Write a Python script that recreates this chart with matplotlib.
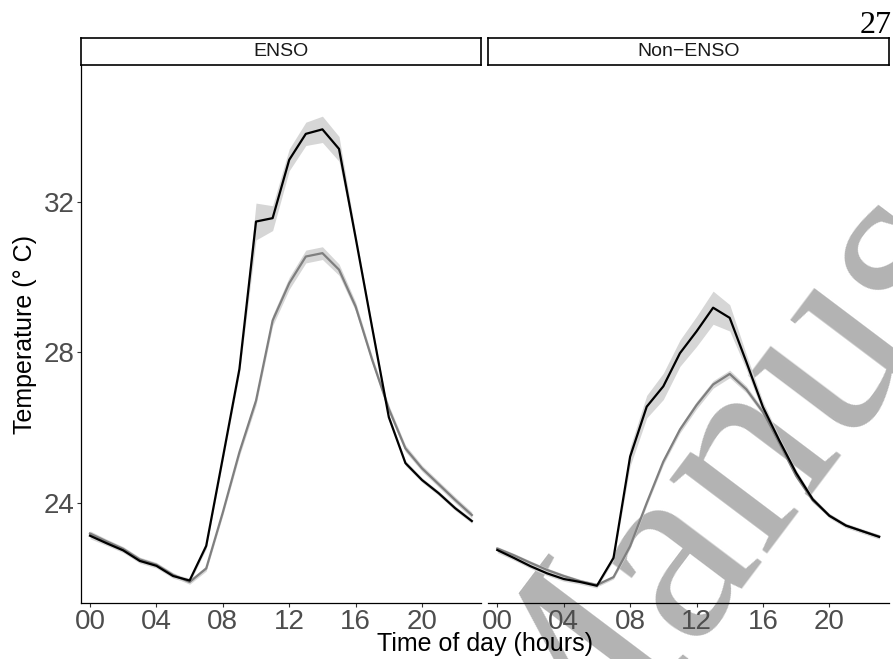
import numpy as np
import matplotlib
matplotlib.use('Agg')
import matplotlib.pyplot as plt

# hourly mean temperature
hours = list(range(24))
enso_black = [23.13, 22.93, 22.74, 22.46, 22.33, 22.06, 21.94, 22.86, 25.2, 27.56, 31.48, 31.57,
              33.12, 33.81, 33.93, 33.41, 31.05, 28.65, 26.28, 25.06, 24.61, 24.26, 23.86, 23.52]
enso_grey = [23.19, 22.98, 22.78, 22.5, 22.36, 22.09, 21.9, 22.26, 23.75, 25.35, 26.72, 28.85,
             29.84, 30.55, 30.64, 30.2, 29.22, 27.8, 26.5, 25.45, 24.92, 24.5, 24.08, 23.68]
non_black = [22.75, 22.54, 22.32, 22.13, 21.98, 21.9, 21.8, 22.54, 25.23, 26.56, 27.1, 27.98,
             28.56, 29.19, 28.92, 27.75, 26.55, 25.65, 24.8, 24.1, 23.66, 23.4, 23.25, 23.1]
non_grey = [22.79, 22.61, 22.41, 22.22, 22.06, 21.92, 21.82, 22.03, 22.85, 24.0, 25.1, 25.95,
            26.6, 27.15, 27.43, 27.02, 26.42, 25.58, 24.72, 24.07, 23.67, 23.4, 23.25, 23.11]
# half widths of the confidence bands
enso_black_ci = [0.08, 0.06, 0.06, 0.06, 0.06, 0.06, 0.06, 0.08, 0.1, 0.12, 0.49, 0.33,
                 0.29, 0.31, 0.35, 0.33, 0.12, 0.08, 0.08, 0.07, 0.06, 0.06, 0.06, 0.06]
enso_grey_ci = [0.07, 0.06, 0.06, 0.06, 0.06, 0.06, 0.06, 0.07, 0.08, 0.1, 0.12, 0.14,
                0.16, 0.17, 0.17, 0.15, 0.12, 0.1, 0.1, 0.09, 0.08, 0.08, 0.08, 0.08]
non_black_ci = [0.07, 0.06, 0.06, 0.06, 0.06, 0.06, 0.06, 0.07, 0.25, 0.3, 0.35, 0.35,
                0.4, 0.44, 0.35, 0.2, 0.15, 0.1, 0.08, 0.07, 0.06, 0.06, 0.06, 0.06]
non_grey_ci = [0.05, 0.05, 0.05, 0.05, 0.05, 0.05, 0.05, 0.05, 0.06, 0.07, 0.08, 0.09,
               0.1, 0.1, 0.1, 0.09, 0.08, 0.07, 0.06, 0.06, 0.05, 0.05, 0.05, 0.05]
panels = ['ENSO', 'Non\u2212ENSO']
xticks = [0, 4, 8, 12, 16, 20]
xticklabels = ['00', '04', '08', '12', '16', '20']
yticks = [24, 28, 32]

W, H = 893, 659
fig = plt.figure(figsize=(W / 100, H / 100), dpi=100)
plt.rcParams['font.family'] = ['Liberation Sans', 'DejaVu Sans']


def px_axes(l, t, r, b):
    return fig.add_axes([l / W, 1 - b / H, (r - l) / W, (b - t) / H])


series = [(enso_black, enso_black_ci, enso_grey, enso_grey_ci),
          (non_black, non_black_ci, non_grey, non_grey_ci)]
lefts = [80.7, 488]
for i, (blk, blk_ci, gry, gry_ci) in enumerate(series):
    l = lefts[i]
    r = l + 400.6
    ax = px_axes(l, 65, r, 602.7)
    ax.set_facecolor('none')
    h = np.array(hours)
    for vals, ci in [(gry, gry_ci), (blk, blk_ci)]:
        v = np.array(vals)
        c = np.array(ci)
        ax.fill_between(h, v - c, v + c, color='#d6d6d6', lw=0)
    ax.plot(h, gry, color='#7f7f7f', lw=1.6)
    ax.plot(h, blk, color='black', lw=1.6)
    ax.set_xlim(-0.56, 23.57)
    ax.set_ylim(21.35, 35.64)
    ax.set_xticks(xticks)
    ax.set_xticklabels(xticklabels)
    ax.tick_params(axis='both', length=3, width=0.8, color='#333333', labelcolor='#4d4d4d',
                   labelsize=20, pad=1.5)
    for s in ['top', 'right']:
        ax.spines[s].set_visible(False)
    ax.spines['bottom'].set_linewidth(0.9)
    ax.spines['left'].set_linewidth(0.9)
    if i == 0:
        ax.set_yticks(yticks)
    else:
        ax.spines['left'].set_visible(False)
        ax.set_yticks([])

    st = px_axes(l, 38.3, r, 65)
    st.set_xticks([])
    st.set_yticks([])
    for s in st.spines.values():
        s.set_linewidth(1.2)
        s.set_color('black')
    st.text(0.5, 0.5, panels[i], ha='center', va='center', fontsize=14, color='#1a1a1a',
            transform=st.transAxes)

fig.text(25 / W, 1 - 334 / H, 'Temperature (\u00b0 C)', rotation=90, ha='center', va='center',
         fontsize=18)
fig.text(485 / W, 1 - 651.5 / H, 'Time of day (hours)', ha='center', va='baseline', fontsize=18)
fig.text(892 / W, 1 - 33 / H, '27', ha='right', va='baseline', fontsize=23,
         family='Liberation Serif')
# grey watermark of the manuscript page, mostly outside the crop
fig.text(547 / W, 1 - 835 / H, 'Manuscript', rotation=53, rotation_mode='anchor', ha='left',
         va='baseline', fontsize=192, family='Liberation Serif', color='#b3b3b3', zorder=-1)

fig.savefig('out.png', dpi=100)
